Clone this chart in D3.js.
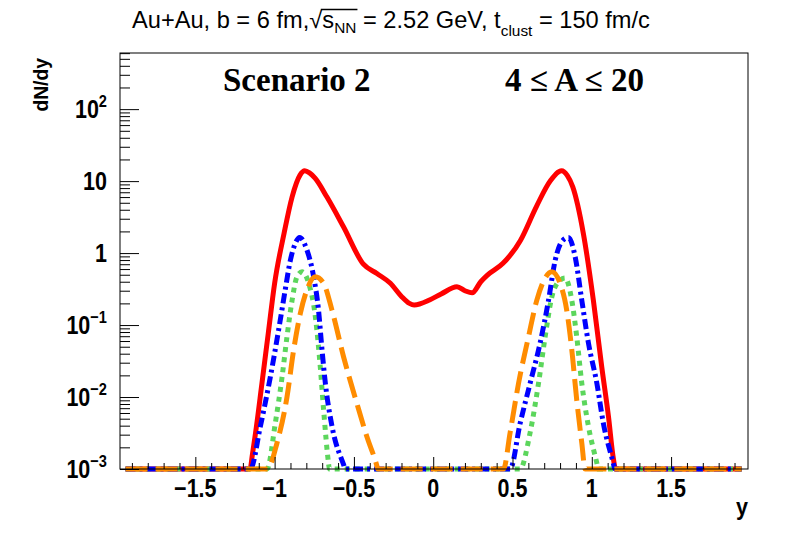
<!DOCTYPE html>
<html>
<head>
<meta charset="utf-8">
<script src="https://cdn.jsdelivr.net/npm/d3@7"></script>
<style>
  html, body { margin: 0; padding: 0; background: #fff; }
  svg { display: block; }
</style>
</head>
<body>
<svg id="chart" width="788" height="534"></svg>
<script>
// ---------------- DATA ----------------
// x = rapidity y, v = dN/dy ; values below 1e-3 are drawn on the floor (0 = below range)
const redX   = [-1.94, -1.155, -1.14, -1.12, -1.08, -1.04, -1.00, -0.94, -0.89, -0.84, -0.81, -0.78, -0.745, -0.67, -0.565, -0.44, -0.355, -0.27, -0.20, -0.15, -0.12, -0.02, 0.05, 0.15, 0.20, 0.245, 0.30, 0.34, 0.44, 0.55, 0.65, 0.74, 0.81, 0.845, 0.88, 0.947, 1.01, 1.063, 1.105, 1.136, 1.15, 1.945];
const redV   = [0, 0.001, 0.0016, 0.0032, 0.0155, 0.077, 0.38, 1.9, 6.0, 12.1, 13.9, 13.0, 11.0, 6.0, 2.3, 0.70, 0.52, 0.38, 0.25, 0.20, 0.19, 0.225, 0.27, 0.34, 0.30, 0.28, 0.40, 0.49, 0.72, 1.5, 4.4, 10.2, 13.9, 12.0, 8.3, 1.86, 0.22, 0.026, 0.0054, 0.0014, 0.001, 0];

const blueX  = [-1.94, -1.153, -1.09, -1.027, -0.975, -0.933, -0.901, -0.870, -0.842, -0.796, -0.754, -0.723, -0.701, -0.680, -0.638, -0.565, -0.555, 0.485, 0.548, 0.611, 0.674, 0.727, 0.769, 0.811, 0.853, 0.895, 0.937, 0.979, 1.032, 1.073, 1.136, 1.145, 1.945];
const blueV  = [0, 0.001, 0.0039, 0.019, 0.085, 0.31, 0.79, 1.36, 1.65, 1.1, 0.47, 0.16, 0.045, 0.0155, 0.0039, 0.00115, 0.001, 0.001, 0.0043, 0.0155, 0.056, 0.22, 0.79, 1.45, 1.65, 0.89, 0.22, 0.056, 0.0155, 0.0043, 0.0012, 0.001, 0];

const greenX = [-1.94, -1.048, -0.996, -0.953, -0.922, -0.890, -0.859, -0.827, -0.785, -0.743, -0.712, -0.691, -0.660, -0.655, 0.548, 0.611, 0.664, 0.706, 0.748, 0.790, 0.832, 0.874, 0.905, 0.937, 0.979, 1.032, 1.04, 1.945];
const greenV = [0, 0.001, 0.0043, 0.019, 0.069, 0.22, 0.47, 0.55, 0.38, 0.13, 0.026, 0.0066, 0.0012, 0.001, 0.001, 0.0032, 0.0155, 0.069, 0.245, 0.40, 0.45, 0.22, 0.069, 0.0155, 0.0039, 0.0012, 0.001, 0];

const orangeX = [-1.94, -1.045, -0.985, -0.922, -0.880, -0.838, -0.796, -0.744, -0.691, -0.638, -0.565, -0.481, -0.418, -0.355, -0.35, 0.443, 0.485, 0.538, 0.601, 0.653, 0.706, 0.748, 0.800, 0.842, 0.874, 0.905, 0.937, 0.958, 1.945];
const orangeV = [0, 0.001, 0.0023, 0.01, 0.045, 0.145, 0.31, 0.47, 0.38, 0.16, 0.036, 0.0081, 0.0028, 0.0011, 0.001, 0.001, 0.0032, 0.0155, 0.069, 0.22, 0.45, 0.55, 0.38, 0.16, 0.045, 0.0091, 0.0023, 0.001, 0];

const xMajorTicks = [-1.5, -1, -0.5, 0, 0.5, 1, 1.5];
const xTickLabels = ["\u22121.5", "\u22121", "\u22120.5", "0", "0.5", "1", "1.5"];
const yMajorTicks = [1e-3, 1e-2, 1e-1, 1, 10, 100];
const yTickBase   = ["10", "10", "10", "1", "10", "10"];
const yTickExp    = ["\u22123", "\u22122", "\u22121", "", "", "2"];

const titleText = "Au+Au, b = 6 fm,";
const scenarioLabel = "Scenario 2";
const rangeLabel = "4 \u2264 A \u2264 20";

// ---------------- SCALES ----------------
const L = 120, R = 748, T = 53, B = 469;
const yMin = 1e-3, yMax = Math.pow(10, 2.78);
const xs = d3.scaleLinear().domain([-1.975, 1.985]).range([L, R]);
const ys = d3.scaleLog().domain([yMin, yMax]).range([B, T]);

const svg = d3.select("#chart");
const SANS = "'Liberation Sans', Arial, Helvetica, sans-serif";
const SERIF = "'Liberation Serif', 'Times New Roman', serif";
const LBL_SIZE = 25, LBL_SX = 0.86;

// ---------------- CURVES ----------------
const line = d3.line()
  .x(d => xs(d[0]))
  .y(d => ys(Math.max(d[1], yMin)))
  .curve(d3.curveMonotoneX);

const series = [
  { xs: redX,    vs: redV,    color: "#ff0000", dash: null },
  { xs: greenX,  vs: greenV,  color: "#5cd65c", dash: "5,5" },
  { xs: blueX,   vs: blueV,   color: "#0000ff", dash: "10,4,3,4" },
  { xs: orangeX, vs: orangeV, color: "#ff8c00", dash: "22,8" }
];

const gCurves = svg.append("g");
series.forEach(s => {
  const pts = s.xs.map((x, i) => [x, s.vs[i]]);
  gCurves.append("path")
    .attr("d", line(pts))
    .attr("fill", "none")
    .attr("stroke", s.color)
    .attr("stroke-width", 5)
    .attr("stroke-linejoin", "round")
    .attr("stroke-dasharray", s.dash);
});

// ---------------- FRAME & AXES ----------------
svg.append("rect")
  .attr("x", L).attr("y", T).attr("width", R - L).attr("height", B - T)
  .attr("fill", "none").attr("stroke", "#000").attr("stroke-width", 1);

// x axis ticks (inside)
const xMinor = d3.range(-19, 20).map(i => i / 10).filter(v => Math.abs(v * 2 - Math.round(v * 2)) > 1e-6);
const xAxisMajor = d3.axisBottom(xs).tickValues(xMajorTicks).tickSize(-12).tickFormat("");
const xAxisMinor = d3.axisBottom(xs).tickValues(xMinor).tickSize(-6).tickFormat("");
[xAxisMajor, xAxisMinor].forEach(ax => {
  const g = svg.append("g").attr("transform", `translate(0,${B})`).call(ax);
  g.select(".domain").remove();
  g.selectAll("line").attr("stroke", "#000").attr("stroke-width", 1);
});
svg.append("g").selectAll("text").data(xMajorTicks).join("text")
  .attr("transform", d => `translate(${xs(d)},497) scale(${LBL_SX},1)`)
  .attr("text-anchor", "middle")
  .attr("font-family", SANS).attr("font-weight", "bold").attr("font-size", LBL_SIZE)
  .text((d, i) => xTickLabels[i]);

// y axis ticks (inside)
const yMinor = [];
for (let e = -3; e <= 2; e++) for (let m = 2; m <= 9; m++) { const v = m * Math.pow(10, e); if (v <= yMax) yMinor.push(v); }
const yAxisMajor = d3.axisLeft(ys).tickValues(yMajorTicks).tickSize(-19).tickFormat("");
const yAxisMinor = d3.axisLeft(ys).tickValues(yMinor).tickSize(-10).tickFormat("");
[yAxisMajor, yAxisMinor].forEach(ax => {
  const g = svg.append("g").attr("transform", `translate(${L},0)`).call(ax);
  g.select(".domain").remove();
  g.selectAll("line").attr("stroke", "#000").attr("stroke-width", 1);
});
const yl = svg.append("g").selectAll("text").data(yMajorTicks).join("text")
  .attr("transform", d => `translate(107,${ys(d) + 9}) scale(${LBL_SX},1)`)
  .attr("text-anchor", "end")
  .attr("font-family", SANS).attr("font-weight", "bold").attr("font-size", LBL_SIZE);
yl.each(function(d, i) {
  const t = d3.select(this);
  t.append("tspan").text(yTickBase[i]);
  if (yTickExp[i]) t.append("tspan").attr("font-size", 17).attr("dy", -11).text(yTickExp[i]);
});

// axis titles
svg.append("text")
  .attr("transform", "translate(48,58) rotate(-90) scale(0.92,1)")
  .attr("text-anchor", "end")
  .attr("font-family", SANS).attr("font-weight", "bold").attr("font-size", 21)
  .text("dN/dy");
svg.append("text")
  .attr("transform", "translate(748,515) scale(0.9,1)")
  .attr("text-anchor", "end")
  .attr("font-family", SANS).attr("font-weight", "bold").attr("font-size", 24)
  .text("y");

// ---------------- LABELS IN PLOT ----------------
svg.append("text")
  .attr("x", 223).attr("y", 91)
  .attr("font-family", SERIF).attr("font-weight", "bold").attr("font-size", 33)
  .text(scenarioLabel);
svg.append("text")
  .attr("x", 505).attr("y", 91)
  .attr("font-family", SERIF).attr("font-weight", "bold").attr("font-size", 33)
  .text(rangeLabel);

// ---------------- TITLE ----------------
const tg = svg.append("g");
const pieces = [
  { t: titleText, size: 23, dy: 0 },
  { t: "\u221A", size: 23, dy: 0, sqrt: true },
  { t: "s", size: 23, dy: 0, over: true },
  { t: "NN", size: 15, dy: 5, over: true },
  { t: " = 2.52 GeV, t", size: 23, dy: 0 },
  { t: "clust", size: 15, dy: 8 },
  { t: " = 150 fm/c", size: 23, dy: 0 }
];
let cx = 0, overStart = null, overEnd = null;
pieces.forEach(p => {
  const el = tg.append("text")
    .attr("x", cx).attr("y", p.dy)
    .attr("font-family", SANS).attr("font-size", p.size)
    .attr("xml:space", "preserve")
    .style("white-space", "pre")
    .text(p.t);
  const w = el.node().getComputedTextLength();
  if (p.sqrt) overStart = cx + w - 1.5;
  if (p.over) overEnd = cx + w + 1;
  cx += w;
});
tg.append("line")
  .attr("x1", overStart).attr("x2", overEnd)
  .attr("y1", -18.5).attr("y2", -18.5)
  .attr("stroke", "#000").attr("stroke-width", 1.3);
const targetW = 518, centerX = 391, baseY = 28;
const sx = targetW / cx;
tg.attr("transform", `translate(${centerX - targetW / 2},${baseY}) scale(${sx},1)`);
</script>
</body>
</html>
